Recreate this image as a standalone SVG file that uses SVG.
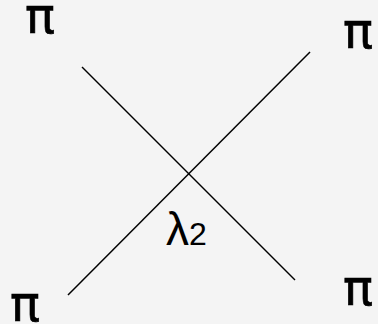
<svg xmlns="http://www.w3.org/2000/svg" width="378" height="324" viewBox="0 0 378 324">
<style>
.lbl{font-family:"Liberation Sans",Arial,sans-serif;font-size:46px;fill:#000}
.pi{font-family:"DejaVu Sans",sans-serif;font-size:50px;fill:#000;stroke:#000;stroke-width:0.6}
.sub{font-size:32px}
.ln{stroke:#000;stroke-width:1.5;fill:none}
</style>
<rect width="378" height="324" fill="#f4f4f4"/>
<g id="connectors">
<line class="ln" x1="82" y1="67" x2="295" y2="280"/>
<line class="ln" x1="68" y1="295" x2="310" y2="52"/>
</g>
<g id="pi-tl"><text class="pi" x="25" y="33">π</text></g>
<g id="pi-tr"><text class="pi" x="343" y="48">π</text></g>
<g id="pi-bl"><text class="pi" x="10" y="321">π</text></g>
<g id="pi-br"><text class="pi" x="343" y="305">π</text></g>
<g id="lambda"><text class="lbl" x="166" y="245">λ<tspan class="sub">2</tspan></text></g>
</svg>
